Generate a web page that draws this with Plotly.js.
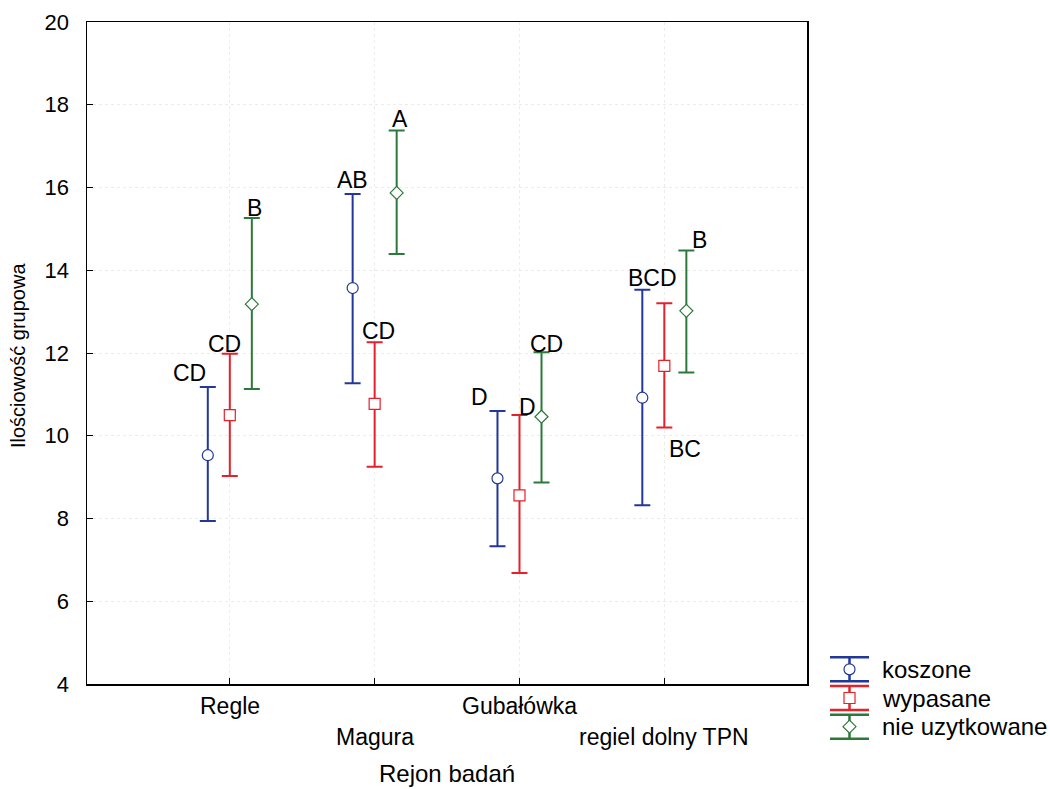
<!DOCTYPE html>
<html>
<head>
<meta charset="utf-8">
<script src="https://cdn.plot.ly/plotly-3.0.1.min.js"></script>
<style>html,body{margin:0;padding:0;background:#fff;}#chart{width:1050px;height:789px;}</style>
</head>
<body>
<div id="chart"></div>
<script>
// ---- data ----
const categories = ["Regle", "Magura", "Gubałówka", "regiel dolny TPN"];
const seriesNames = ["koszone", "wypasane", "nie uzytkowane"];

const koszoneMean  = [9.53, 13.57, 8.97, 10.92];
const koszoneUpper = [11.18, 15.84, 10.60, 13.53];
const koszoneLower = [7.94, 11.27, 7.33, 8.32];

const wypasaneMean  = [10.50, 10.77, 8.56, 11.69];
const wypasaneUpper = [11.98, 12.26, 10.50, 13.20];
const wypasaneLower = [9.03, 9.25, 6.68, 10.20];

const nieMean  = [13.18, 15.87, 10.46, 13.02];
const nieUpper = [15.26, 17.38, 12.02, 14.48];
const nieLower = [11.13, 14.39, 8.87, 11.53];

const koszoneLetters  = ["CD", "AB", "D", "BCD"];
const wypasaneLetters = ["CD", "CD", "D", "BC"];
const nieLetters      = ["B", "A", "CD", "B"];

const yTicks = [4, 6, 8, 10, 12, 14, 16, 18, 20];

// ---- styling ----
const colors = ["#22379b", "#e3222b", "#2c7a3a"];
const symbols = ["circle", "square", "diamond"];
const markerSizes = [11, 11, 10];
const offsets = [-0.152, 0, 0.152];
const FONT = "Liberation Sans, Arial, sans-serif";

const means = [koszoneMean, wypasaneMean, nieMean];
const uppers = [koszoneUpper, wypasaneUpper, nieUpper];
const lowers = [koszoneLower, wypasaneLower, nieLower];
const letters = [koszoneLetters, wypasaneLetters, nieLetters];

const traces = [];
means.forEach((m, s) => {
  const xs = categories.map((c, i) => i + offsets[s]);
  traces.push({
    type: "scatter", mode: "markers", x: xs, y: m,
    xaxis: "x", yaxis: "y", showlegend: false, cliponaxis: false,
    marker: {symbol: symbols[s], size: markerSizes[s], color: "#ffffff", line: {width: 1.2, color: colors[s]}},
    error_y: {type: "data", symmetric: false,
      array: m.map((v, i) => uppers[s][i] - v),
      arrayminus: m.map((v, i) => v - lowers[s][i]),
      color: colors[s], thickness: 2, width: 8}
  });
});

// legend built with a tiny second subplot
seriesNames.forEach((name, s) => {
  traces.push({
    type: "scatter", mode: "markers", x: [0], y: [2 - s],
    xaxis: "x2", yaxis: "y2", showlegend: false, cliponaxis: false, hoverinfo: "skip",
    marker: {symbol: symbols[s], size: markerSizes[s], color: "#ffffff", line: {width: 1.2, color: colors[s]}},
    error_y: {type: "constant", value: 0.42, color: colors[s], thickness: 2.5, width: 19.5}
  });
});

const annotations = [];
// significance letters
const letterShift = [
  // [xshift, yshift, useLower]
  [[-18, 14, false], [0, 14, false], [-18, 14, false], [10, 12, false]],
  [[-5, 10, false], [4, 11, false], [8, 8, false], [21, -22, true]],
  [[3, 10, false], [3, 11, false], [5, 8, false], [13, 10, false]]
];
letters.forEach((arr, s) => {
  arr.forEach((t, i) => {
    const sh = letterShift[s][i];
    annotations.push({
      xref: "x", yref: "y", x: i + offsets[s], y: sh[2] ? lowers[s][i] : uppers[s][i],
      xshift: sh[0], yshift: sh[1], text: t, showarrow: false,
      font: {family: FONT, size: 23, color: "#000"}, xanchor: "center", yanchor: "middle"
    });
  });
});
// staggered category labels
categories.forEach((c, i) => {
  annotations.push({
    xref: "x", yref: "y domain", x: i, y: 0, yshift: (i % 2 === 0) ? -22 : -53,
    text: c, showarrow: false, xanchor: "center", yanchor: "middle",
    font: {family: FONT, size: 23, color: "#000"}
  });
});
// axis titles
annotations.push({xref: "x domain", yref: "y domain", x: 0.5, y: 0, yshift: -89,
  text: "Rejon badań", showarrow: false, xanchor: "center", yanchor: "middle",
  font: {family: FONT, size: 24, color: "#000"}});
annotations.push({xref: "x domain", yref: "y domain", x: 0, y: 0.5, xshift: -69, yshift: -3,
  text: "Ilościowość grupowa", textangle: -90, showarrow: false, xanchor: "center", yanchor: "middle",
  font: {family: FONT, size: 20, color: "#000"}});
// legend texts
seriesNames.forEach((name, s) => {
  annotations.push({xref: "x2", yref: "y2", x: 0, y: 2 - s, xshift: 30,
    text: name, showarrow: false, xanchor: "left", yanchor: "middle",
    font: {family: FONT, size: 24, color: "#000"}});
});

const W = 1050, H = 789;
const mL = 87, mR = 0, mT = 22, mB = 40;
const pw = W - mL - mR, ph = H - mT - mB;
const xd = (px) => (px - mL) / pw;
const yd = (py) => (H - mB - py) / ph;

const layout = {
  width: W, height: H,
  margin: {l: mL, r: mR, t: mT, b: mB, pad: 0},
  paper_bgcolor: "#fff", plot_bgcolor: "#fff",
  font: {family: FONT, color: "#000"},
  xaxis: {
    domain: [0, xd(807)], range: [-0.986, 3.985],
    tickvals: categories.map((c, i) => i), showticklabels: false,
    ticks: "inside", ticklen: 6, tickwidth: 1, tickcolor: "#000",
    showgrid: true, gridcolor: "#ececec", griddash: "dot", gridwidth: 1,
    showline: true, mirror: true, linecolor: "#000", linewidth: 1.5, zeroline: false
  },
  yaxis: {
    domain: [yd(684), 1], range: [4, 20],
    tickvals: yTicks, ticktext: yTicks.map(String),
    ticks: "inside", ticklen: 6, tickwidth: 1, tickcolor: "#000",
    ticklabelstandoff: 12,
    tickfont: {family: FONT, size: 22, color: "#000"},
    showgrid: true, gridcolor: "#ececec", griddash: "dot", gridwidth: 1,
    showline: true, mirror: true, linecolor: "#000", linewidth: 1.5, zeroline: false
  },
  xaxis2: {domain: [xd(829), xd(870)], range: [-1, 1], visible: false, anchor: "y2", fixedrange: true},
  yaxis2: {domain: [yd(741), yd(655)], range: [-0.5, 2.5], visible: false, anchor: "x2", fixedrange: true},
  annotations: annotations,
  showlegend: false
};

Plotly.newPlot("chart", traces, layout, {displayModeBar: false, staticPlot: true});
</script>
</body>
</html>
